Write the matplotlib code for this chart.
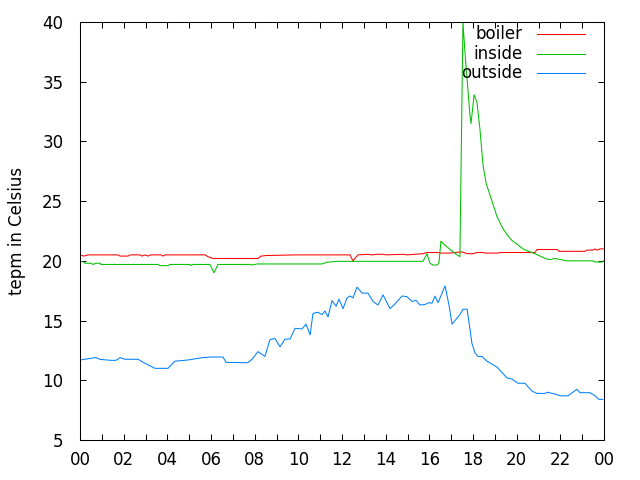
"""Temperature log for one day: boiler, inside and outside."""
import matplotlib
matplotlib.use("Agg")
import matplotlib.pyplot as plt
from matplotlib.ticker import MultipleLocator, FuncFormatter

# hours since midnight, temperature in Celsius
boiler_h = [0.00, 0.18, 0.37, 1.74, 1.83, 2.20, 2.29, 2.75, 2.84, 2.98, 3.11, 3.25,
            3.71, 3.80, 3.89, 5.73, 5.86, 6.09, 8.15, 8.29, 8.56, 9.94, 12.37, 12.50,
            12.73, 13.19, 13.37, 13.60, 13.88, 14.02, 14.79, 14.98, 15.71, 15.89, 16.40,
            16.49, 16.95, 17.18, 17.50, 17.73, 18.00, 18.18, 18.46, 18.55, 19.15, 19.24,
            20.84, 20.93, 21.85, 21.94, 23.13, 23.22, 23.50, 23.59, 23.68, 23.82, 23.98]
boiler_t = [20.5, 20.4, 20.5, 20.5, 20.4, 20.4, 20.5, 20.5, 20.4, 20.5, 20.4, 20.5,
            20.5, 20.4, 20.5, 20.5, 20.35, 20.2, 20.2, 20.4, 20.45, 20.5, 20.5, 20.0,
            20.5, 20.55, 20.5, 20.55, 20.55, 20.5, 20.55, 20.5, 20.6, 20.7, 20.7,
            20.65, 20.65, 20.7, 20.75, 20.6, 20.6, 20.7, 20.7, 20.65, 20.65, 20.7,
            20.7, 20.95, 20.95, 20.8, 20.8, 20.9, 20.9, 21.0, 20.9, 21.0, 21.0]

inside_h = [0.00, 0.14, 0.23, 0.50, 0.60, 0.73, 0.92, 0.96, 3.57, 3.66, 4.03, 4.12,
            5.04, 5.08, 5.18, 5.95, 6.14, 6.32, 7.79, 7.88, 8.11, 11.08, 11.31, 11.77,
            15.71, 15.89, 16.03, 16.17, 16.35, 16.44, 16.53, 16.72, 17.27, 17.40, 17.54,
            17.63, 17.86, 17.91, 18.05, 18.18, 18.32, 18.46, 18.60, 18.78, 19.10, 19.37,
            19.56, 19.79, 20.02, 20.29, 20.47, 20.84, 21.30, 21.53, 21.76, 22.31, 23.50,
            23.59, 23.91, 23.98]
inside_t = [19.93, 19.93, 19.8, 19.8, 19.7, 19.8, 19.8, 19.7, 19.7, 19.6, 19.6, 19.7,
            19.7, 19.6, 19.7, 19.7, 19.0, 19.7, 19.7, 19.65, 19.74, 19.74, 19.88, 19.96,
            19.96, 20.6, 19.8, 19.65, 19.65, 19.8, 21.65, 21.3, 20.5, 20.35, 40.0,
            37.5, 32.2, 31.5, 33.9, 33.3, 31.0, 28.0, 26.5, 25.5, 23.7, 22.7,
            22.2, 21.7, 21.4, 21.0, 20.85, 20.6, 20.2, 20.1, 20.2, 20.0, 20.0,
            19.9, 19.9, 20.0]

outside_h = [0.00, 0.73, 0.92, 1.42, 1.65, 1.83, 2.06, 2.66, 2.89, 3.11, 3.44, 4.03,
             4.35, 4.95, 5.63, 6.00, 6.55, 6.69, 7.69, 7.88, 8.15, 8.47, 8.70, 8.93,
             9.16, 9.39, 9.62, 9.85, 10.17, 10.35, 10.54, 10.67, 10.90, 11.08, 11.22,
             11.36, 11.54, 11.73, 11.86, 12.05, 12.23, 12.37, 12.50, 12.69, 12.92, 13.19,
             13.42, 13.65, 13.88, 14.20, 14.43, 14.75, 14.98, 15.21, 15.39, 15.57, 15.80,
             15.99, 16.12, 16.26, 16.40, 16.72, 16.90, 17.04, 17.40, 17.54, 17.73, 17.82,
             17.95, 18.09, 18.23, 18.41, 18.64, 18.92, 19.10, 19.56, 19.79, 20.06, 20.38,
             20.70, 20.93, 21.30, 21.39, 21.76, 21.99, 22.35, 22.76, 22.90, 23.36, 23.59,
             23.77, 23.95]
outside_t = [11.7, 11.9, 11.75, 11.67, 11.67, 11.9, 11.76, 11.76, 11.5, 11.3, 11.0, 11.0,
             11.6, 11.7, 11.9, 11.95, 11.95, 11.5, 11.47, 11.76, 12.4, 12.0, 13.4, 13.5,
             12.8, 13.45, 13.45, 14.35, 14.3, 14.7, 13.8, 15.6, 15.7, 15.5, 15.8,
             15.3, 16.67, 16.2, 16.8, 16.0, 16.9, 17.06, 16.9, 17.8, 17.3, 17.3,
             16.6, 16.3, 17.15, 16.0, 16.4, 17.06, 17.0, 16.6, 16.7, 16.3, 16.35,
             16.5, 16.45, 17.05, 16.5, 17.9, 16.3, 14.7, 15.5, 15.95, 15.95, 14.8,
             13.1, 12.3, 12.0, 12.0, 11.6, 11.3, 11.1, 10.2, 10.1, 9.75, 9.75,
             9.1, 8.9, 8.9, 9.0, 8.85, 8.7, 8.7, 9.25, 8.96, 8.96, 8.7,
             8.4, 8.4]

series = [("boiler", boiler_h, boiler_t, "#ff0000"),
          ("inside", inside_h, inside_t, "#00c000"),
          ("outside", outside_h, outside_t, "#0080ff")]

plt.rcParams["font.family"] = "DejaVu Sans"
plt.rcParams["font.size"] = 12

fig = plt.figure(figsize=(6.4, 4.8), dpi=100)
ax = fig.add_axes([80 / 640, 40 / 480, 524 / 640, 418 / 480])

for name, h, t, color in series:
    ax.plot(h, t, color=color, lw=0.75)

# gnuplot-style key: right-aligned text, sample line after it
for i, (name, h, t, color) in enumerate(series):
    y = 0.971 - i * 0.0465
    ax.text(0.845, y, name, transform=ax.transAxes, ha="right", va="center")
    ax.plot([0.872, 0.964], [y, y], transform=ax.transAxes, color=color, lw=0.75)

ax.set_xlim(0, 24)
ax.set_ylim(5, 40)
ax.xaxis.set_major_locator(MultipleLocator(2))
ax.xaxis.set_minor_locator(MultipleLocator(1))
ax.xaxis.set_major_formatter(FuncFormatter(lambda v, p: "%02d" % (int(v) % 24)))
ax.yaxis.set_major_locator(MultipleLocator(5))
ax.tick_params(which="both", direction="in", top=True, right=True, length=4, width=0.75)
ax.tick_params(axis="x", pad=8)
ax.tick_params(axis="y", pad=12)
ax.set_ylabel("tepm in Celsius", labelpad=12)
for s in ax.spines.values():
    s.set_linewidth(0.75)

fig.savefig("out.png", dpi=100)
